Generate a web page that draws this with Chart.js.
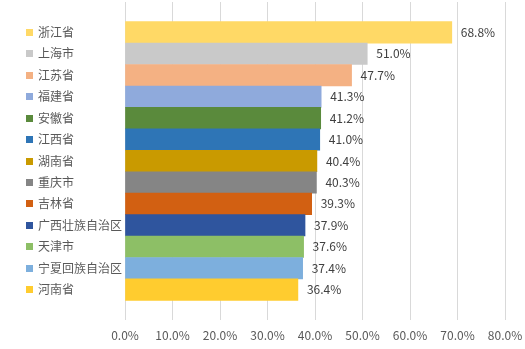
<!DOCTYPE html>
<html>
<head>
<meta charset="utf-8">
<script src="https://cdn.jsdelivr.net/npm/chart.js@4"></script>
<style>
  html, body { margin: 0; padding: 0; background: #fff; }
  #wrap { width: 525px; height: 349px; }
</style>
</head>
<body>
<div id="wrap"><canvas id="chart"></canvas></div>
<script>
const provinces = ["浙江省", "上海市", "江苏省", "福建省", "安徽省", "江西省", "湖南省",
  "重庆市", "吉林省", "广西壮族自治区", "天津市", "宁夏回族自治区", "河南省"];
const shares = [68.8, 51.0, 47.7, 41.3, 41.2, 41.0, 40.4, 40.3, 39.3, 37.9, 37.6, 37.4, 36.4];
const barColors = ["#FFD966", "#C9C9C9", "#F4B183", "#8FAADC", "#5A8A3C", "#2E75B6", "#C99A00",
  "#858585", "#D26012", "#2F559E", "#8DBF66", "#7DAFDD", "#FFCC2F"];
const xTicks = [0, 10, 20, 30, 40, 50, 60, 70, 80];

const FONT = "'Noto Sans CJK SC', 'Noto Sans', sans-serif";

// 标签前的小色块（像图例）
const legendSquares = {
  id: "legendSquares",
  afterDraw(chart) {
    const y = chart.scales.y;
    const ctx = chart.ctx;
    ctx.save();
    provinces.forEach((p, i) => {
      const py = y.getPixelForValue(i);
      ctx.fillStyle = barColors[i];
      ctx.fillRect(y.left - 12, Math.round(py - 3.5), 7, 7);
    });
    ctx.restore();
  },
};

// 柱子末端的数值
const valueLabels = {
  id: "valueLabels",
  afterDatasetsDraw(chart) {
    const ctx = chart.ctx;
    const meta = chart.getDatasetMeta(0);
    ctx.save();
    ctx.font = "12px " + FONT;
    ctx.fillStyle = "#404040";
    ctx.textAlign = "left";
    ctx.textBaseline = "middle";
    meta.data.forEach((bar, i) => {
      ctx.fillText(shares[i].toFixed(1) + "%", bar.x + 9, bar.y);
    });
    ctx.restore();
  },
};

new Chart(document.getElementById("chart"), {
  type: "bar",
  data: {
    datasets: [
      {
        data: shares.map((v, i) => ({ x: v, y: i })),
        backgroundColor: barColors,
        borderWidth: 0,
        barPercentage: 1,
        categoryPercentage: 1,
      },
    ],
  },
  options: {
    indexAxis: "y",
    responsive: true,
    maintainAspectRatio: false,
    animation: false,
    layout: { padding: { top: 2, bottom: 0, left: 38, right: 0 } },
    plugins: {
      legend: { display: false },
      tooltip: { enabled: false },
    },
    scales: {
      x: {
        type: "linear",
        min: 0,
        max: 80,
        afterBuildTicks: (axis) => { axis.ticks = xTicks.map((v) => ({ value: v })); },
        afterFit: (axis) => {
          axis.height = 29;
          axis.paddingRight = 20;
          axis.paddingLeft = 0;
        },
        grid: { color: "#D9D9D9", drawTicks: false },
        border: { display: false },
        ticks: {
          padding: 8,
          color: "#595959",
          font: { family: FONT, size: 12 },
          callback: (v) => v.toFixed(1) + "%",
        },
      },
      y: {
        type: "linear",
        reverse: true,
        offset: false,
        min: -1.417,
        max: 13.417,
        afterBuildTicks: (axis) => { axis.ticks = provinces.map((p, i) => ({ value: i })); },
        afterFit: (axis) => {
          axis.paddingTop = 0;
          axis.paddingBottom = 0;
        },
        grid: { display: false, drawTicks: false },
        border: { display: false },
        ticks: {
          autoSkip: false,
          crossAlign: "far",
          padding: 1.5,
          color: "#595959",
          font: { family: FONT, size: 12 },
          callback: (v) => provinces[v],
        },
      },
    },
  },
  plugins: [legendSquares, valueLabels],
});
</script>
</body>
</html>
